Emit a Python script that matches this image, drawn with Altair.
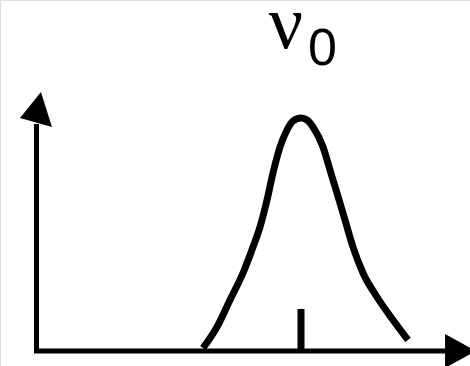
import altair as alt
import pandas as pd

# Line profile around the resonance frequency nu0 (arbitrary units)
nu = [167, 181, 194, 207, 217, 224, 231, 237, 244, 251, 257, 265, 271, 277,
      287, 294, 301, 309, 317, 327, 341, 357, 372]
intensity = [2, 23, 50, 77, 103, 123, 150, 177, 203, 220, 229, 232, 230, 223,
             203, 180, 157, 130, 103, 77, 53, 30, 10]

nu0 = 265          # centre of the line
tick_height = [0, 41]
x_axis_end = 412   # where the x arrowhead begins
y_axis_end = 226   # where the y arrowhead begins
x_arrow_pos = [424, -1]
y_arrow_pos = [0, 240]

X = alt.Scale(domain=[-36, 434])
Y = alt.Scale(domain=[-16, 350])

curve = alt.Chart(pd.DataFrame({"nu": nu, "I": intensity})).mark_line(
    color="black", strokeWidth=7, interpolate="monotone", strokeCap="butt"
).encode(
    x=alt.X("nu:Q", scale=X, axis=None),
    y=alt.Y("I:Q", scale=Y, axis=None),
)

axes = pd.DataFrame({
    "x": [0.5, -2], "x2": [0.5, x_axis_end],
    "y": [-3, -1], "y2": [y_axis_end, -1],
})
axis_lines = alt.Chart(axes).mark_rule(color="black", strokeWidth=5).encode(
    x=alt.X("x:Q", scale=X, axis=None), x2="x2:Q",
    y=alt.Y("y:Q", scale=Y, axis=None), y2="y2:Q",
)

tick = alt.Chart(pd.DataFrame({"x": [nu0], "y": [tick_height[0]], "y2": [tick_height[1]]})).mark_rule(
    color="black", strokeWidth=7
).encode(
    x=alt.X("x:Q", scale=X, axis=None),
    y=alt.Y("y:Q", scale=Y, axis=None), y2="y2:Q",
)

x_head = alt.Chart(pd.DataFrame({"x": [x_arrow_pos[0]], "y": [x_arrow_pos[1]]})).mark_point(
    shape="M-0.88,-1L0.94,0L-0.88,1Z", size=1156, filled=True, color="black", opacity=1
).encode(
    x=alt.X("x:Q", scale=X, axis=None),
    y=alt.Y("y:Q", scale=Y, axis=None),
)

y_head = alt.Chart(pd.DataFrame({"x": [y_arrow_pos[0]], "y": [y_arrow_pos[1]]})).mark_point(
    shape="M0.29,-1.06L-0.94,0.47L0.94,1.0Z", size=1156, filled=True, color="black", opacity=1
).encode(
    x=alt.X("x:Q", scale=X, axis=None),
    y=alt.Y("y:Q", scale=Y, axis=None),
)

nu_label = alt.Chart(pd.DataFrame({"x": [250], "y": [302], "t": ["ν"]})).mark_text(
    font="Liberation Serif", fontSize=76, align="center", baseline="alphabetic", color="black"
).encode(
    x=alt.X("x:Q", scale=X, axis=None),
    y=alt.Y("y:Q", scale=Y, axis=None),
    text="t:N",
)

sub_label = alt.Chart(pd.DataFrame({"x": [286.5], "y": [285], "t": ["0"]})).mark_text(
    font="Liberation Sans", fontSize=52, align="center", baseline="alphabetic", color="black"
).encode(
    x=alt.X("x:Q", scale=X, axis=None),
    y=alt.Y("y:Q", scale=Y, axis=None),
    text="t:N",
)

chart = alt.layer(axis_lines, tick, curve, x_head, y_head, nu_label, sub_label).properties(
    width=470, height=366, padding=0, autosize=alt.AutoSizeParams(type="none")
).configure_view(stroke=None).configure(background="white")

chart.save("out.html", embed_options={"renderer": "svg", "actions": False})
